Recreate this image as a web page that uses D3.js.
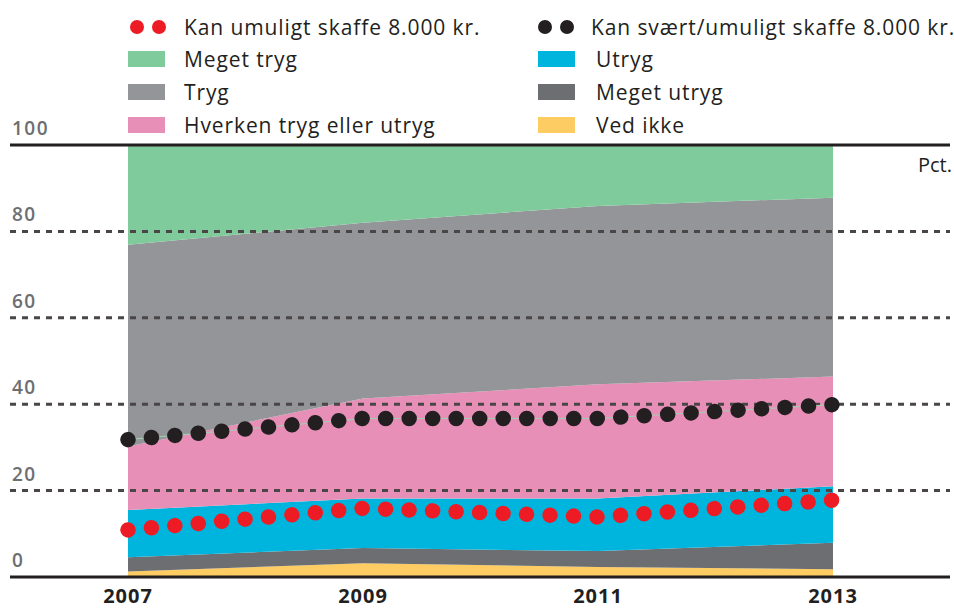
<!DOCTYPE html>
<html>
<head>
<meta charset="utf-8">
<script src="https://cdn.jsdelivr.net/npm/d3@7"></script>
<style>
  body { margin: 0; background: #fff; }
  svg { display: block; font-family: "Open Sans", sans-serif; }
</style>
</head>
<body>
<svg id="chart" width="954" height="610"></svg>
<script>
const years = [2007, 2009, 2011, 2013];
const yTicks = [0, 20, 40, 60, 80, 100];

// stacked layers, bottom to top (pct.)
const vedIkke = [1.3, 3.2, 2.3, 1.8];
const megetUtryg = [3.3, 3.5, 3.7, 6.1];
const utryg = [10.9, 11.5, 12.2, 13.1];
const hverken = [14.7, 23.1, 26.4, 25.4];
const tryg = [46.7, 40.7, 41.3, 41.4];
const megetTryg = [23.1, 18.0, 14.1, 12.2];

// dotted lines
const umuligt = [10.9, 15.9, 13.9, 17.8];
const svaertUmuligt = [31.8, 36.7, 36.7, 39.9];

const layers = [
  { key: "vedIkke", label: "Ved ikke", values: vedIkke, color: "#fdcd64" },
  { key: "megetUtryg", label: "Meget utryg", values: megetUtryg, color: "#6d6e71" },
  { key: "utryg", label: "Utryg", values: utryg, color: "#00b5dd" },
  { key: "hverken", label: "Hverken tryg eller utryg", values: hverken, color: "#e88fb7" },
  { key: "tryg", label: "Tryg", values: tryg, color: "#939598" },
  { key: "megetTryg", label: "Meget tryg", values: megetTryg, color: "#80cb9c" },
];

const svg = d3.select("#chart");

const x = d3.scaleLinear().domain([2007, 2013]).range([128, 833]);
const y = d3.scaleLinear().domain([0, 100]).range([577, 145]);

const table = years.map((yr, i) => {
  const row = { year: yr };
  layers.forEach((l) => (row[l.key] = l.values[i]));
  return row;
});

const stack = d3.stack().keys(layers.map((l) => l.key));
const series = stack(table);

const area = d3
  .area()
  .x((d) => x(d.data.year))
  .y0((d) => y(d[0]))
  .y1((d) => y(d[1]));

svg
  .append("g")
  .selectAll("path")
  .data(series)
  .join("path")
  .attr("d", area)
  .attr("fill", (d, i) => layers[i].color);

// grid
const grid = svg.append("g");
grid
  .selectAll("line")
  .data(yTicks)
  .join("line")
  .attr("x1", 10)
  .attr("x2", 950)
  .attr("y1", (d) => y(d))
  .attr("y2", (d) => y(d))
  .attr("stroke", (d) => (d === 0 || d === 100 ? "#231f20" : "#4a4546"))
  .attr("stroke-width", 3)
  .attr("stroke-dasharray", (d) => (d === 0 || d === 100 ? null : "6,6"));

grid
  .selectAll("text")
  .data(yTicks)
  .join("text")
  .attr("x", 12)
  .attr("y", (d) => y(d) - 10)
  .attr("font-size", 19)
  .attr("font-weight", 600)
  .attr("letter-spacing", 1.5)
  .attr("fill", "#6d6e71")
  .text((d) => d);

svg
  .append("text")
  .attr("x", 952)
  .attr("y", 172)
  .attr("text-anchor", "end")
  .attr("font-size", 20)
  .attr("fill", "#231f20")
  .text("Pct.");

// x axis labels
svg
  .append("g")
  .selectAll("text")
  .data(years)
  .join("text")
  .attr("x", (d) => x(d))
  .attr("y", 603)
  .attr("text-anchor", "middle")
  .attr("font-size", 20)
  .attr("font-weight", 700)
  .attr("letter-spacing", 1)
  .attr("fill", "#231f20")
  .text((d) => d);

// dotted lines
const line = d3
  .line()
  .x((d, i) => x(years[i]))
  .y((d) => y(d));

svg
  .append("path")
  .attr("d", line(svaertUmuligt))
  .attr("fill", "none")
  .attr("stroke", "#9fd3b0")
  .attr("stroke-width", 1);

[
  { values: svaertUmuligt, color: "#231f20" },
  { values: umuligt, color: "#ed1c24" },
].forEach((s) => {
  svg
    .append("path")
    .attr("d", line(s.values))
    .attr("fill", "none")
    .attr("stroke", s.color)
    .attr("stroke-width", 15.5)
    .attr("stroke-linecap", "round")
    .attr("stroke-dasharray", "0.01,23.5");
});

// legend
const legend = svg
  .append("g")
  .attr("font-size", 21)
  .attr("letter-spacing", 0.9)
  .attr("fill", "#231f20");

const dotItems = [
  { label: "Kan umuligt skaffe 8.000 kr.", color: "#ed1c24", x: 137, tx: 184 },
  { label: "Kan svært/umuligt skaffe 8.000 kr.", color: "#231f20", x: 545, tx: 591 },
];
dotItems.forEach((it) => {
  [0, 22].forEach((dx) =>
    legend
      .append("circle")
      .attr("cx", it.x + dx)
      .attr("cy", 27)
      .attr("r", 7)
      .attr("fill", it.color),
  );
  legend.append("text").attr("x", it.tx).attr("y", 35).text(it.label);
});

const swatchItems = [
  { key: "megetTryg", col: 0, row: 1 },
  { key: "tryg", col: 0, row: 2 },
  { key: "hverken", col: 0, row: 3 },
  { key: "utryg", col: 1, row: 1 },
  { key: "megetUtryg", col: 1, row: 2 },
  { key: "vedIkke", col: 1, row: 3 },
];
const rowY = [27, 59, 92, 125];
const colX = [128, 538];
const colTx = [184, 596];
swatchItems.forEach((it) => {
  const l = layers.find((d) => d.key === it.key);
  legend
    .append("rect")
    .attr("x", colX[it.col])
    .attr("y", rowY[it.row] - 8)
    .attr("width", 37)
    .attr("height", 16)
    .attr("fill", l.color);
  legend
    .append("text")
    .attr("x", colTx[it.col])
    .attr("y", rowY[it.row] + 8)
    .text(l.label);
});
</script>
</body>
</html>
